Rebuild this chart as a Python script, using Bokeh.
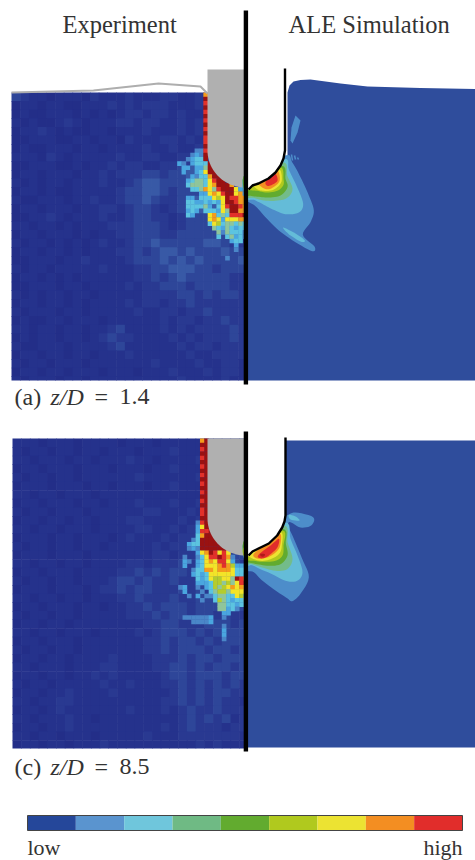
import numpy as np
from bokeh.plotting import figure
from bokeh.models import Range1d
from bokeh.core.properties import value
from bokeh.embed import file_html
from bokeh.resources import INLINE

# ---- colour scale of the measured field
CELL_COLORS = dict(a="#232e88", b="#25328c", c="#293991", d="#2e4699", e="#3859a6", f="#4a86c8",
                   g="#4aa6df", h="#5cc4e0", i="#8fc59b", j="#b5cc2c", k="#f3e428", l="#f49c1c",
                   m="#e2312a", n="#9a1212")
BAR_COLORS = ["#25479a", "#5a94cf", "#6fc6dc", "#6fba84", "#62ab2f", "#b0c91e", "#ece332", "#f38e22", "#e12d2b"]
BAND_COLORS = ["#4d8dca", "#64bcd8", "#73bc8a", "#62ab2f", "#b0c91e", "#ece332", "#f38e22", "#e12d2b"]
SIM_BLUE = "#2f4d9c"

# ---- experiment (a): coarse background levels
BG_A = [
 "dcbbabbbacbbbcbbbccbbcbbccc",
 "abbabbaabbbcbcbcccbbbccbccc",
 "abaabbbabababccbccbcbbccbcc",
 "babaabcbabbbccbccbbcbcbbccc",
 "abbcbabaabbabbbcbbbcbcccccc",
 "aabbbaabbabbacbbbccbcbccccc",
 "abaabbbabbabbbbcbbcbbcccccc",
 "bbbacbabbbbbcbbccbbccccdccc",
 "aabbbaababbcbccbbccdcdddccc",
 "abbabbbabbcbcccddcddeeccccc",
 "bababbabbbcbbcdeeddddeddccc",
 "abbabaabbbbbcddeedcddddcccc",
 "baabbbabbcbbcddedccdddcdccc",
 "abbabbbabbccbcddcbcdddddddc",
 "aabbcbabbbcbbcddccbcddddddc",
 "bbabbababbbcccdddcbcddddddc",
 "abbabbbababbccdddccdddddddd",
 "babbabababcbbcddedddddeedcc",
 "abbabbababbbccdcdeededddedd",
 "aabbbabbcbbbbcdddedededddde",
 "babbabbbbbcbbbccddeeeddcddd",
 "abbabababbbbbbccdcdedddddcc",
 "aabbbabbabbbbcbccdddcddddcc",
 "bababbabbabbbbbccccddcdcddc",
 "abbabbababbbbcbccbccdcccccc",
 "babbbabbabbbbbcbbccbccdcccc",
 "abaabbabbbabbbbbbcbccbccdcc",
 "bbabbabbabbcdbbbbcbcbccccdc",
 "ababbabbabcdccbbbbcbcbcccdc",
 "baabbbabbbbcdbbbbbbcbccbccc",
 "abbabbabbabbbcbbbbbbcbbcccc",
 "babbabbbabbbbbbbcbbbbcbbccb",
 "abbabbabbbabbbabbbcbbbcbccb",
 "babbbabbabbbbbbbbbbcbbbbcbb",
]
# ---- experiment (a): fine cells near the tool
HOT_A = [
 ".................l", ".................n", ".................m", ".................n",
 ".................m", ".................n", ".................m", ".................n",
 ".................m", ".................n", ".................m",
 ".................m",
 ".................n",
 "...............ffm",
 "..............fgfn",
 ".............fghhn",
 "...........gf.ghhhn",
 "............ggegginn",
 "............geeghknn",
 ".............egfhhlnn",
 ".............ghiihkmnn",
 ".............hiiihklnnnl",
 "..............hhilkimnnnkg",
 "................ggklkmnnklg",
 ".............ggehhhkjknmmll",
 ".............hhgghghgknnmll",
 ".............hhhhigehkmnnml",
 ".............ghgehhhgkinnll",
 ".............hg...klhihmmmn",
 "..................klkgkkkll",
 "..................hkjhiihih",
 "...................ihgihghh",
 "....................ifihhhf",
 "....................h.highf",
 ".......................ghh.",
 "........................g",
 "........................f",
 "",
 "......................f",
]

# ---- experiment (c): coarse background levels
BG_C = [
 "bbbabbbabbbbabbbabbbbbbbcbc",
 "babbabbabbabbbabbbcbbbbbccc",
 "bbabbbabbabbbcbbabbbbcbbccc",
 "abbabbbabbbabbbabbcbbbbcccc",
 "babbabbabbbbbbcbbbbbbcbbccc",
 "abbbabbbabbabbbabbcbbbccccc",
 "bbabbabbbabbbbbbbbbbbbcbccc",
 "abbabbbabbabbbcbbbcbbccccdc",
 "babbabbbabbbbbbccbbbcbcdddd",
 "abbabbabbabbbccbbbbcbccddde",
 "bbabbabbbabbbbccbbcbcccddde",
 "abbbabbabbbabcbbbcbccdcdddd",
 "babbabbabbabbbbbcbccccddddd",
 "abbbabbbabbbbbbbccbccdddddd",
 "bbabbabbabbbbccbcccdccddddc",
 "abbabbbabbbbccdcdcddcdddddd",
 "babbabbabbbcddcdccdccdddddd",
 "abbbabbbabccdcddcccdcdcdddc",
 "bbabbabbabbbccdcccdccddccdd",
 "abbabbbabbabbccdcdddcdddcdd",
 "babbabbabbbbbcccdcddcddcdcc",
 "abbabbabbbbbbbbccddcccdddcd",
 "bbabbabbbabbbbcbcdddcdcdddd",
 "abbabbbabbbbbbbccdcddcdcddd",
 "babbabbabbbbbbbccdcdddcddcd",
 "abbabbabbbbcbbbbcccdcddcddd",
 "bbabbbabbbccbbbbccddcdcddcd",
 "abbabbabbcbcbbbbbcddcdddcdd",
 "babbabbbbbcbbcbbbccdcdcdcdc",
 "abbabbcbbbbcbbbbbbcdcdcddcc",
 "bbabbccbbbbbbbbbbccdcdcdccb",
 "abbabcbbbbbbbcbbbcbcdccdccc",
 "bbabbbcbbabbbbbbbbbcdcdcdbc",
 "abbabbcbbbbbbbbbbcbcdcccbcc",
 "bbabbabbbabbbbbcbbbcccccccb",
 "abbabbabbbcbbbbbbbbbbcbcbbb",
]
# ---- experiment (c): fine cells near the tool
HOT_C = [
 "................ln", "................nn", "................mn", "................nn",
 "................mn", "................nn", "................mn", "................nn",
 "................mn", "................nn", "................mn", "................nn",
 "................mn", "................nn", "................mn", "................nn",
 "................mn",
 "................mn",
 "................nn",
 "...............fmn",
 "...............gknn",
 "...............gmmn",
 "...............hlnn",
 "..............fhnnnn",
 ".............ghhnnnnn",
 ".............fgfnnnnnnl",
 "...............gklnmkmk",
 "............f..fhkmmnmlf",
 "............gf.ghklkmmkg",
 "............g..ghkkklmljgg",
 "..............fhhllklllkhhh",
 "..............ghghkkkkkkhhg",
 "...............hghkjjkkinml",
 "...............ggghjjijikmm",
 "...........fg..f.ghjijklklk",
 "............g...f.hijjikkkk",
 ".............f.g.ffhiihhkjh",
 "................f..hjihghhi",
 "....................iihhghh",
 "....................iighf",
 ".....................gg",
 "............ffffffg..f",
 "..............ffffg",
 ".....................f",
 ".....................g",
 ".....................g",
 ".....................f",
]

# ---- simulated contour bands (outer to inner)
BANDS_A = [
 [(118,45),(140,65),(165,110),(190,165),(205,210),(195,245),(172,283),(207,318),(200,332),(150,305),(100,270),(60,230),(30,197),(0,172),(0,100)],
 [(115,55),(130,88),(155,140),(173,190),(160,216),(120,221),(80,206),(50,190),(25,178),(0,172),(0,100)],
 [(112,65),(125,105),(141,145),(125,172),(90,181),(50,179),(25,172),(0,165),(0,100)],
 [(108,75),(120,115),(126,140),(105,165),(70,171),(40,169),(15,166),(0,160),(0,100)],
 [(105,80),(114,115),(113,135),(95,151),(65,156),(35,151),(15,149),(0,145),(40,100)],
 [(100,85),(109,115),(101,135),(80,149),(55,151),(35,146),(25,130),(60,100)],
 [(96,90),(103,118),(91,135),(70,146),(50,141),(40,125),(70,105)],
 [(90,100),(96,120),(80,133),(65,136),(60,125),(75,110)],
]
SLIVER_A = [(113,261),(150,279),(178,300),(165,303),(130,281)]
BANDS_C = [
 [(122,30),(150,21),(203,35),(197,60),(165,66),(135,50),(128,60),(145,100),(170,160),(190,215),(165,265),(140,287),(125,278),(90,255),(50,225),(25,200),(0,187),(0,100),(80,40)],
 [(118,50),(135,100),(156,150),(171,200),(155,226),(120,226),(80,206),(45,191),(20,179),(0,175),(0,100)],
 [(115,60),(126,110),(141,160),(125,191),(90,196),(50,186),(20,176),(0,170),(0,100)],
 [(112,70),(121,115),(126,150),(105,176),(70,181),(35,176),(10,171),(0,165),(0,100)],
 [(110,75),(114,120),(111,150),(90,166),(55,169),(25,166),(0,160),(0,120)],
 [(107,80),(109,120),(101,145),(75,161),(45,166),(15,156),(5,140),(60,100)],
 [(104,85),(104,120),(91,140),(65,156),(35,159),(25,145),(70,110)],
 [(100,100),(96,125),(75,146),(55,158),(38,156),(42,145),(75,120)],
]
LOBE_C = [(130,28),(150,33),(162,45),(135,42)]
DOT_C = [(45,145),(58,146),(55,153),(46,152)]
WISP_A = [(295,115),(300,120),(297,132),(292,143),(290,140),(291,127)]
DASHES_A = [(288,155,289,160),(291,154,292,160),(294,155,295,159),(297,157,298,159)]
# ---- outlines
SURFACE_A = [(287,160),(287,92),(289,85),(293,81),(300,79.5),(310,79),(340,83),(367,86),(420,87.5),(480,88.5),(480,380),(246,380),(246,190)]
SURFACE_C = [(285,440),(480,440),(480,747),(246,747),(246,555)]
TOOL_A = [(284.5,68),(284.5,150),(283,158),(280,165),(275,172),(268,178),(258,183),(252,185),(248,189)]
TOOL_C = [(285,437),(285,515),(284,521),(281.7,527),(276.7,535),(268.3,543),(258,548),(252,551),(248,555)]
BULGE = [(11,92),(93,90),(158,83),(200,86),(207,93)]
TITLES = ["Experiment", "ALE Simulation"]
CAPTIONS = [("(a)", "z/D", "=", "1.4"), ("(c)", "z/D", "=", "8.5")]
ENDS = ["low", "high"]

CELL = 4.36
p = figure(width=475, height=860, x_range=Range1d(0, 475), y_range=Range1d(860, 0),
           x_axis_location=None, y_axis_location=None, toolbar_location=None,
           output_backend="svg", min_border=0, outline_line_color=None)
p.grid.visible = False
p.background_fill_color = "white"


def smooth(pts, sub=6):
    P = np.array(pts, float)
    out = []
    t = np.linspace(0, 1, sub, endpoint=False)[:, None]
    n = len(P)
    for i in range(n):
        p0, p1, p2, p3 = P[i-1], P[i], P[(i+1) % n], P[(i+2) % n]
        out.append(0.5*((2*p1) + (p2-p0)*t + (2*p0-5*p1+4*p2-p3)*t**2 + (3*p1-p0-3*p2+p3)*t**3))
    return np.concatenate(out)


def cells(x0, y0, bg, hot, hot_col, h, x1, y1):
    # coarse background, each block overlapping the next so no seams show
    L, R, T, B, C = [], [], [], [], []
    for r, row in enumerate(bg):
        for c, ch in enumerate(row):
            L.append(x0 + 2*c*CELL); R.append(min(L[-1] + 2*CELL + 0.6, x1))
            T.append(y0 + 2*r*h); B.append(min(T[-1] + 2*h + 0.6, y1)); C.append(CELL_COLORS[ch])
    for r, row in enumerate(hot):
        for c, ch in enumerate(row):
            if ch == ".":
                continue
            L.append(x0 + (c + hot_col)*CELL); R.append(L[-1] + CELL + 0.3)
            T.append(y0 + r*h); B.append(T[-1] + h + 0.3); C.append(CELL_COLORS[ch])
    p.quad(left=L, right=R, top=T, bottom=B, fill_color=C, line_color=None)


def gray_tool(top, cy):
    a = np.linspace(np.pi, np.pi*1.5, 24)
    xs = [207, 245] + [245] + list(245 + 38*np.cos(a))[::-1]
    ys = [top, top] + [cy + 37] + list(cy - 37*np.sin(a))[::-1]
    p.patch(xs, ys, fill_color="#b0b0b0", line_color=None)


def sim(surface, bands, tool, ox, oy, extras=()):
    p.patch([q[0] for q in surface], [q[1] for q in surface], fill_color=SIM_BLUE, line_color=None)
    for band, col in zip(bands, BAND_COLORS):
        q = smooth(band)
        p.patch(ox + q[:, 0]/3, oy + q[:, 1]/3, fill_color=col, line_color=None)
    for band, col in extras:
        q = smooth(band)
        p.patch(ox + q[:, 0]/3, oy + q[:, 1]/3, fill_color=col, line_color=None)
    tx = [q[0] for q in tool]; ty = [q[1] for q in tool]
    p.patch([246] + tx + [246], [ty[0]] + ty + [ty[-1]], fill_color="white", line_color=None)
    p.line(tx, ty, line_color="black", line_width=2.4)


# panels
cells(11, 92, BG_A, HOT_A, 27, 4.3, 246, 380)
cells(12, 438, BG_C, HOT_C, 27, 4.31, 246, 748)
gray_tool(69, 150)
gray_tool(438, 518)
p.line([q[0] for q in BULGE], [q[1] for q in BULGE], line_color="#aeaeae", line_width=2)

sim(SURFACE_A, BANDS_A, TOOL_A, 245, 140, [(SLIVER_A, BAND_COLORS[1])])
p.patch([q[0] for q in WISP_A], [q[1] for q in WISP_A], fill_color=BAND_COLORS[0], line_color=None)
p.segment([d[0] for d in DASHES_A], [d[1] for d in DASHES_A], [d[2] for d in DASHES_A], [d[3] for d in DASHES_A],
          line_color=BAND_COLORS[0], line_width=1.5)
sim(SURFACE_C, BANDS_C, TOOL_C, 245, 505, [(LOBE_C, BAND_COLORS[1]), (DOT_C, "#b01a1a")])

# central bars
p.quad(left=[243.2, 243.2], right=[247.6, 247.6], top=[10, 431], bottom=[384, 751], fill_color="black", line_color=None)

# colour bar
bx = np.linspace(27, 462, len(BAR_COLORS) + 1)
p.quad(left=bx[:-1], right=bx[1:], top=815, bottom=830, fill_color=BAR_COLORS, line_color=None)
p.quad(left=[27], right=[462], top=[815], bottom=[830], fill_color=None, line_color="#444444", line_width=1)

# texts
F = value("Liberation Serif")
TXT = "#333333"
kw = dict(text_font=F, text_color=TXT, text_baseline="alphabetic")
p.text([62], [24], text=[TITLES[0]], text_font_size="24.5px", **kw)
p.text([288], [24], text=[TITLES[1]], text_font_size="24.5px", **kw)
for cap, y in zip(CAPTIONS, [396, 766]):
    p.text([14], [y], text=[cap[0]], text_font_size="24px", **kw)
    p.text([50], [y], text=[cap[1]], text_font_style="italic", text_font_size="24px", **kw)
    p.text([94], [y], text=[cap[2]], text_font_size="24px", **kw)
    p.text([119], [y], text=[cap[3]], text_font_size="24px", **kw)
p.text([27], [847], text=[ENDS[0]], text_font_size="22px", **kw)
p.text([462], [847], text=[ENDS[1]], text_font_size="22px", text_align="right", **kw)

open("out.html", "w").write(file_html(p, INLINE))
